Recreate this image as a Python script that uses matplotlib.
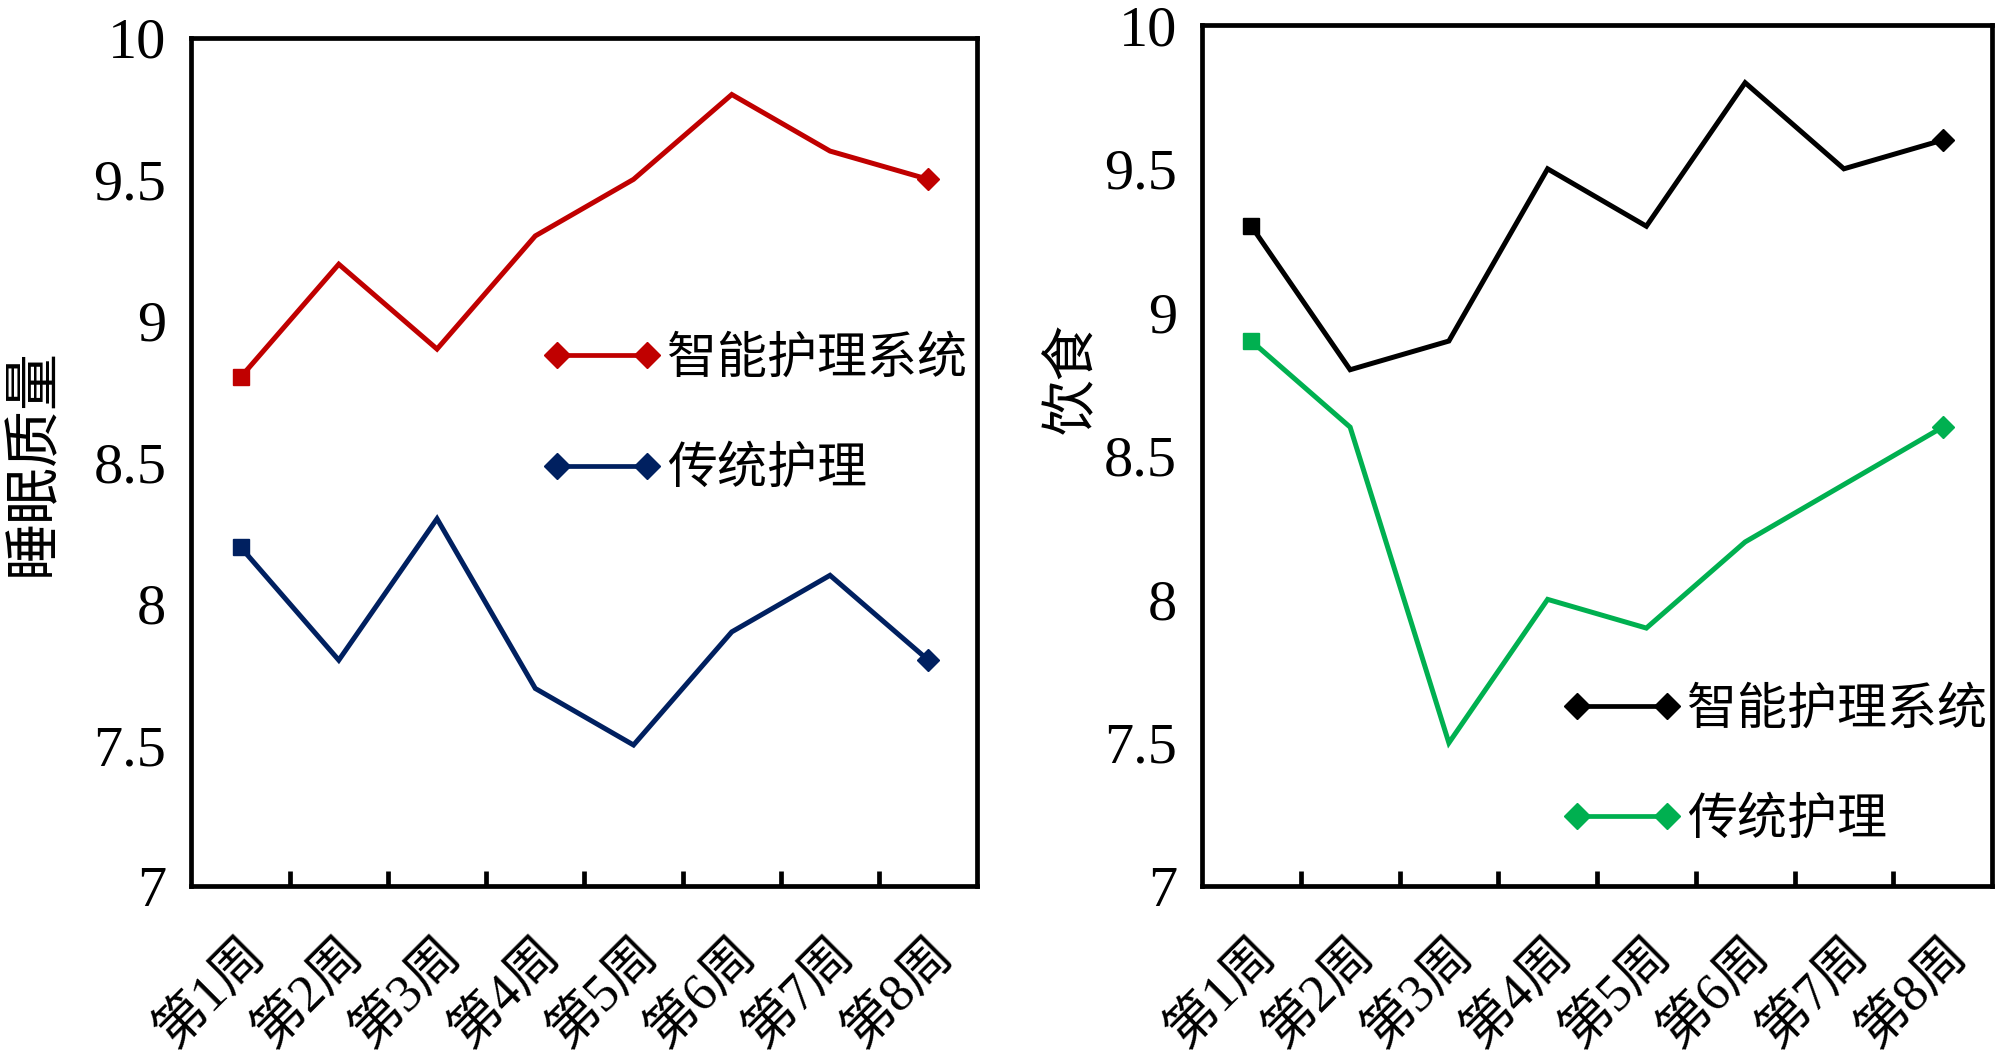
import matplotlib
matplotlib.use("Agg")
import matplotlib.pyplot as plt
from matplotlib.ticker import FixedLocator

weeks = ["第1周", "第2周", "第3周", "第4周", "第5周", "第6周", "第7周", "第8周"]
sleep_smart = [8.8, 9.2, 8.9, 9.3, 9.5, 9.8, 9.6, 9.5]
sleep_trad = [8.2, 7.8, 8.3, 7.7, 7.5, 7.9, 8.1, 7.8]
diet_smart = [9.3, 8.8, 8.9, 9.5, 9.3, 9.8, 9.5, 9.6]
diet_trad = [8.9, 8.6, 7.5, 8.0, 7.9, 8.2, 8.4, 8.6]
yticks = [7, 7.5, 8, 8.5, 9, 9.5, 10]
ytick_labels = ["7", "7.5", "8", "8.5", "9", "9.5", "10"]
series_names = ["智能护理系统", "传统护理"]

SERIF = ["Liberation Serif", "Noto Sans CJK SC"]
CJK = ["Noto Sans CJK SC", "DejaVu Sans"]

fig = plt.figure(figsize=(20, 10.54), dpi=100)

def draw(ax, s1, s2, c1, c2, ylabel, leg_anchor, ylab_xy, ylab_size):
    x = list(range(len(weeks)))
    for vals, col, name in [(s1, c1, series_names[0]), (s2, c2, series_names[1])]:
        ax.plot(x, vals, color=col, lw=3.6, solid_joinstyle="miter")
        ax.plot([x[0]], [vals[0]], marker="s", ms=11, color=col, ls="none")
        ax.plot([x[-1]], [vals[-1]], marker="D", ms=11, color=col, ls="none")
        ax.plot([], [], color=col, lw=3.4, marker="D", ms=13, label=name)
    ax.set_xlim(-0.5, len(weeks) - 0.5)
    ax.set_ylim(7, 10)
    ax.set_yticks(yticks)
    ax.set_yticklabels(ytick_labels, family=SERIF, fontsize=42)
    ax.tick_params(axis="y", length=0, pad=18)
    ax.set_xticks(x)
    ax.set_xticklabels(weeks, rotation=45, ha="right", va="top",
                       rotation_mode="anchor", family=SERIF, fontsize=38)
    ax.tick_params(axis="x", which="major", length=0, pad=31)
    ax.xaxis.set_minor_locator(FixedLocator([i + 0.5 for i in range(len(weeks) - 1)]))
    ax.tick_params(axis="x", which="minor", direction="in", length=11, width=3.4)
    for sp in ax.spines.values():
        sp.set_linewidth(3.4)
    ax.set_ylabel(ylabel, family=CJK, fontsize=ylab_size)
    ax.yaxis.set_label_coords(*ylab_xy)
    ax.legend(loc="center left", bbox_to_anchor=leg_anchor, frameon=False,
              numpoints=2, handlelength=2.4, handletextpad=0.1,
              labelspacing=1.17, prop={"family": CJK, "size": 36})

ax1 = fig.add_axes([0.0957, 0.159, 0.393, 0.805])
draw(ax1, sleep_smart, sleep_trad, "#C00000", "#002060", "睡眠质量",
     (0.389, 0.557), (-0.165, 0.5), 41)
ax2 = fig.add_axes([0.601, 0.159, 0.395, 0.817])
draw(ax2, diet_smart, diet_trad, "#000000", "#00B050", "饮食",
     (0.399, 0.1415), (-0.128, 0.59), 40)

fig.savefig("out.png", dpi=100)
